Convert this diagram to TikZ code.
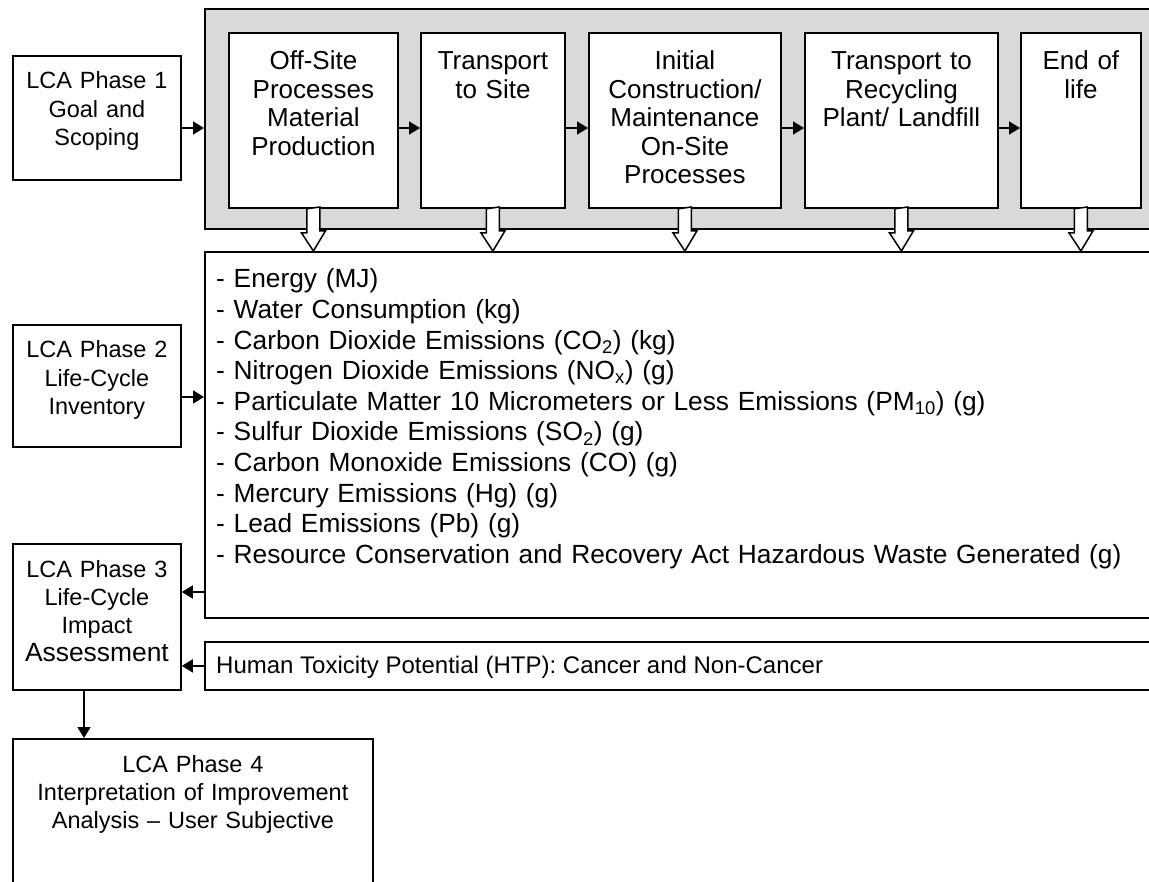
\documentclass[tikz,border=0pt]{standalone}
\usepackage{fontspec}
\setmainfont{Liberation Sans}
\usetikzlibrary{arrows.meta,calc}

\tikzset{
  box/.style={draw, line width=1.8pt, fill=white, inner sep=0pt, anchor=north west},
  boxtext/.style={anchor=base, yshift=-34pt, align=center, inner sep=0pt,
    font=\fontsize{23.5}{28.3}\selectfont},
  proctext/.style={boxtext, yshift=-4pt, font=\fontsize{26}{28.5}\selectfont},
  listtext/.style={anchor=base west, align=left, inner sep=0pt, text width=930pt,
    font=\fontsize{26.3}{30.6}\selectfont},
  arr/.style={line width=1.8pt, -{Triangle[length=11pt,width=13pt]}},
  hollow/.style={draw, line width=1.5pt, fill=white},
}

\begin{document}
\begin{tikzpicture}[x=1pt,y=-1pt]
\useasboundingbox (0,0) rectangle (1149,882);
\clip (0,0) rectangle (1149,882);
\coordinate (r1) at (0,128);
\coordinate (r2) at (0,397);
\coordinate (r3) at (0,592);
\coordinate (c4) at (84,0);

\node[box, fill=black!15, minimum width=1000pt, minimum height=220pt] (proc) at (204,8) {};
\node[box, minimum width=169pt, minimum height=175pt,
  label={[proctext, text width=169pt]north:Off-Site\\Processes\\Material\\Production}] (off) at (228,32) {};
\node[box, minimum width=144pt, minimum height=175pt,
  label={[proctext, text width=144pt]north:Transport\\to Site}] (tsite) at (420,32) {};
\node[box, minimum width=192pt, minimum height=175pt,
  label={[proctext, text width=192pt]north:Initial\\Construction/\\Maintenance\\On-Site\\Processes}] (init) at (588,32) {};
\node[box, minimum width=193pt, minimum height=175pt,
  label={[proctext, text width=193pt]north:Transport to\\Recycling\\Plant/ Landfill}] (trec) at (804,32) {};
\node[box, minimum width=120pt, minimum height=175pt,
  label={[proctext, text width=120pt]north:End of\\life}] (eol) at (1020,32) {};

\node[box, minimum width=1000pt, minimum height=366pt] (inv) at (204,251) {};
\node[listtext] (invt) at (216,288) {- Energy (MJ)\\
- Water Consumption (kg)\\
- Carbon Dioxide Emissions (CO\textsubscript{2}) (kg)\\
- Nitrogen Dioxide Emissions (NO\textsubscript{x}) (g)\\
- Particulate Matter 10 Micrometers or Less Emissions (PM\textsubscript{10}) (g)\\
- Sulfur Dioxide Emissions (SO\textsubscript{2}) (g)\\
- Carbon Monoxide Emissions (CO) (g)\\
- Mercury Emissions (Hg) (g)\\
- Lead Emissions (Pb) (g)\\
- Resource Conservation and Recovery Act Hazardous Waste Generated (g)};

\node[box, minimum width=1000pt, minimum height=48pt] (htp) at (204,641) {};
\node[anchor=base west, inner sep=0pt, font=\fontsize{24}{28}\selectfont] (htpt) at (216,673.5)
  {Human Toxicity Potential (HTP): Cancer and Non-Cancer};

\node[box, minimum width=168pt, minimum height=124pt,
  label={[boxtext, text width=168pt]north:LCA Phase 1\\Goal and\\Scoping}] (ph1) at (12,55) {};
\node[box, minimum width=168pt, minimum height=122pt,
  label={[boxtext, text width=168pt]north:LCA Phase 2\\Life-Cycle\\Inventory}] (ph2) at (12,324) {};
\node[box, minimum width=168pt, minimum height=146pt,
  label={[boxtext, text width=168pt]north:LCA Phase 3\\Life-Cycle\\Impact\\{\fontsize{26.4}{28.3}\selectfont Assessment}}] (ph3) at (12,543) {};
\node[box, minimum width=360pt, minimum height=170pt,
  label={[boxtext, text width=360pt]north:LCA Phase 4\\Interpretation of Improvement\\Analysis – User Subjective}] (ph4) at (12,738) {};

\draw[arr] (ph1.east |- r1) -- (proc.west |- r1);
\foreach \a/\b in {off/tsite, tsite/init, init/trec, trec/eol}
  \draw[arr] (\a.east |- r1) -- (\b.west |- r1);
\draw[arr] (ph2.east |- r2) -- (inv.west |- r2);
\draw[arr] (inv.west |- r3) -- (ph3.east |- r3);
\draw[arr] (htp.west) -- (ph3.east |- htp.west);
\draw[arr] (ph3.south -| c4) -- (ph4.north -| c4);

\foreach \b in {off, tsite, init, trec, eol}
  \draw[hollow] ($(\b.south)+(-6.5,0)$) -- ++(0,24) -- ++(-5.5,0) -- (\b.south |- inv.north)
    -- ++(12,-20) -- ++(-5.5,0) -- ++(0,-24) -- cycle;
\end{tikzpicture}
\end{document}
